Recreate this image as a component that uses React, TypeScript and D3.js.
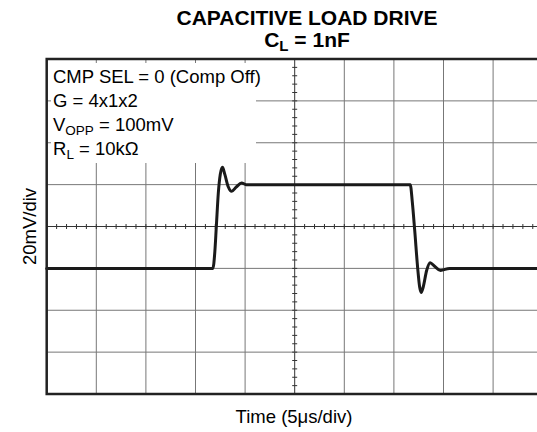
import React from 'react';
import * as d3 from 'd3';

// scope trace, time in us, level in mV
const timeUs = [0, 16.75, 16.95, 17.1, 17.3, 17.5, 17.72, 17.95, 18.3, 18.65, 19.1, 19.65, 20.1, 36.65, 36.85, 37.1, 37.4, 37.6, 37.75, 37.95, 38.3, 38.65, 39.1, 39.7, 40.6, 50];
const voltMv = [-20, -20, -12, 0, 16, 25, 28.3, 25, 19, 16.8, 18.8, 20.8, 20, 20, 12, -2, -20, -29, -31.5, -29, -21, -17.3, -19, -21, -20, -20];

const xDivs = d3.range(0, 51, 5);
const yDivs = d3.range(-80, 81, 20);
const xMinor = d3.range(0, 51, 1);
const yMinor = d3.range(-80, 81, 4);

const notes = ['CMP SEL = 0 (Comp Off)', 'G = 4x1x2', 'VOPP', 'RL'];

const FONT = '"Liberation Sans", Arial, Helvetica, sans-serif';

function App() {
  var x = d3.scaleLinear().domain([0, 50]).range([46.7, 542.7]);
  var y = d3.scaleLinear().domain([-80, 80]).range([394, 59]);

  var pts = timeUs.map(function (t, i) { return [t, voltMv[i]] as [number, number]; });
  var line = d3.line<[number, number]>()
    .x(function (d) { return x(d[0]); })
    .y(function (d) { return y(d[1]); })
    .curve(d3.curveMonotoneX);

  var x0 = x(0), x1 = x(50), y0 = y(80), y1 = y(-80);
  var cx = x(25), cy = y(0);

  return (
    <div style={{ position: 'absolute', left: 0, top: 0 }}>
      <svg width={537} height={432} style={{ display: 'block', background: '#fff' }} fontFamily={FONT}>
        <text x={307} y={25} textAnchor="middle" fontSize={21} fontWeight="bold">CAPACITIVE LOAD DRIVE</text>
        <text x={307} y={47} textAnchor="middle" fontSize={21} fontWeight="bold">
          C<tspan fontSize={15} dy={4}>L</tspan><tspan dy={-4}> = 1nF</tspan>
        </text>

        {/* grid */}
        {xDivs.map(function (v) {
          return <line key={'gx' + v} x1={x(v)} x2={x(v)} y1={y0} y2={y1} stroke={v === 25 ? '#333' : '#777'} strokeWidth={1} />;
        })}
        {yDivs.map(function (v) {
          return <line key={'gy' + v} x1={x0} x2={x1} y1={y(v)} y2={y(v)} stroke={v === 0 ? '#333' : '#777'} strokeWidth={1} />;
        })}
        {xMinor.map(function (v) {
          return <line key={'mx' + v} x1={x(v)} x2={x(v)} y1={cy - 2.5} y2={cy + 2.5} stroke="#333" strokeWidth={1} />;
        })}
        {yMinor.map(function (v) {
          return <line key={'my' + v} x1={cx - 2.5} x2={cx + 2.5} y1={y(v)} y2={y(v)} stroke="#333" strokeWidth={1} />;
        })}

        {/* note box hides grid */}
        <rect x={51} y={63} width={205} height={100} fill="#fff" />
        <g fontSize={18.5}>
          <text x={53} y={83}>{notes[0]}</text>
          <text x={53} y={107}>{notes[1]}</text>
          <text x={53} y={131}>V<tspan fontSize={13.5} dy={4}>OPP</tspan><tspan dy={-4}> = 100mV</tspan></text>
          <text x={53} y={155}>R<tspan fontSize={13.5} dy={4}>L</tspan><tspan dy={-4}> = 10kΩ</tspan></text>
        </g>

        <path d={line(pts) || ''} fill="none" stroke="#1a1a1a" strokeWidth={3} strokeLinejoin="round" strokeLinecap="round" />

        <rect x={x0} y={y0} width={x1 - x0} height={y1 - y0} fill="none" stroke="#222" strokeWidth={2.5} />

        <text transform={'translate(36,' + cy + ') rotate(-90)'} textAnchor="middle" fontSize={18.5}>20mV/div</text>
        <text x={294} y={423} textAnchor="middle" fontSize={18.5}>Time (5μs/div)</text>
      </svg>
    </div>
  );
}

export default App;
